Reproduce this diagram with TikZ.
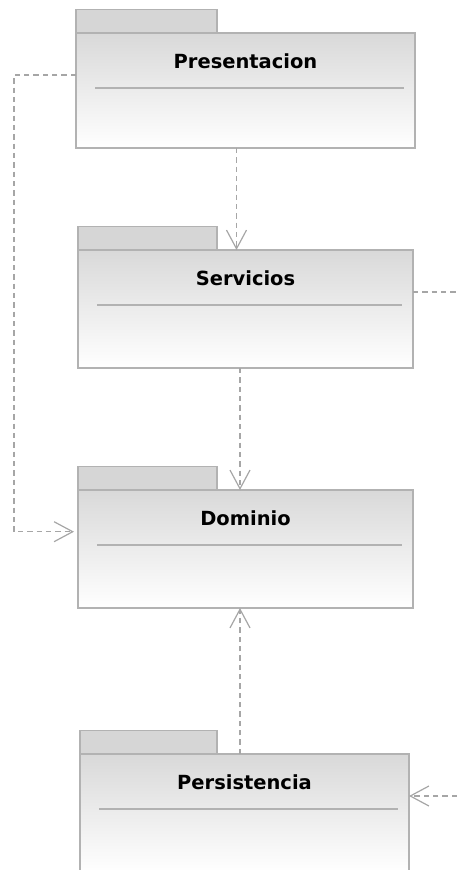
\documentclass[tikz,border=0pt]{standalone}
\usepackage{fontspec}
\setmainfont{DejaVu Sans}
\usetikzlibrary{positioning,arrows.meta}
\newdimen\pxu
\pxu=0.75pt

\begin{document}
\begin{tikzpicture}[x=0.75pt, y=-0.75pt,
    pkg/.style={draw=black!30, line width=1.1pt, top color=black!15, bottom color=white,
        minimum height=118\pxu, inner sep=0pt, outer sep=0pt},
    tab/.style={draw=black!30, line width=1.1pt, fill=black!16,
        minimum height=23.5\pxu, inner sep=0pt, outer sep=0pt},
    title/.style={font=\fontsize{14.6pt}{17pt}\selectfont\bfseries, inner sep=0pt, anchor=base},
    sep/.style={draw=black!30, line width=1pt},
    dep/.style={draw=black!35, line width=0.9pt, dash pattern=on 4pt off 3pt,
        -{Straight Barb[length=14pt, width=15pt]}}]
    \useasboundingbox (0,0) rectangle (457,870);
    \node[pkg, minimum width=339\pxu, minimum height=115\pxu] (pres) at (245.5,90.5) {};
    \node[pkg, minimum width=335\pxu] (serv) at (245.5,309) {};
    \node[pkg, minimum width=335\pxu] (dom) at (245.5,549) {};
    \node[pkg, minimum width=329\pxu] (pers) at (244.5,813) {};
    \foreach \p/\w in {pres/141, serv/139, dom/139, pers/137}{
        \node[tab, minimum width=\w\pxu, above right=0pt and 0pt of \p.north west] (\p-tab) {};
        \draw[sep] ([shift={(19\pxu,-55\pxu)}]\p.north west) -- ([shift={(-11\pxu,-55\pxu)}]\p.north east);
    }
    \node[title] (pres-name) at ([yshift=-36\pxu]pres.north) {Presentacion};
    \node[title] (serv-name) at ([yshift=-35.5\pxu]serv.north) {Servicios};
    \node[title] (dom-name) at ([yshift=-35.5\pxu]dom.north) {Dominio};
    \node[title] (pers-name) at ([yshift=-35.5\pxu]pers.north) {Persistencia};
    \coordinate (bend) at (14,75);
    \coordinate (servout) at (457,292);
    \coordinate (persin) at (457,796);
    \draw[dep] ([xshift=-9\pxu]pres.south) -- ([xshift=-9\pxu]serv.north);
    \draw[dep] ([xshift=-5.5\pxu]serv.south) -- ([xshift=-5.5\pxu]dom.north);
    \draw[dep] ([xshift=-4.5\pxu]pers.north) -- ([xshift=-5.5\pxu]dom.south);
    \draw[dep] (pres.west |- bend) -- (bend) |- ([xshift=-4\pxu, yshift=17.3\pxu]dom.west);
    \draw[dep, -] (serv.east |- servout) -- (servout);
    \draw[dep] (persin) -- (pers.east |- persin);
\end{tikzpicture}
\end{document}
